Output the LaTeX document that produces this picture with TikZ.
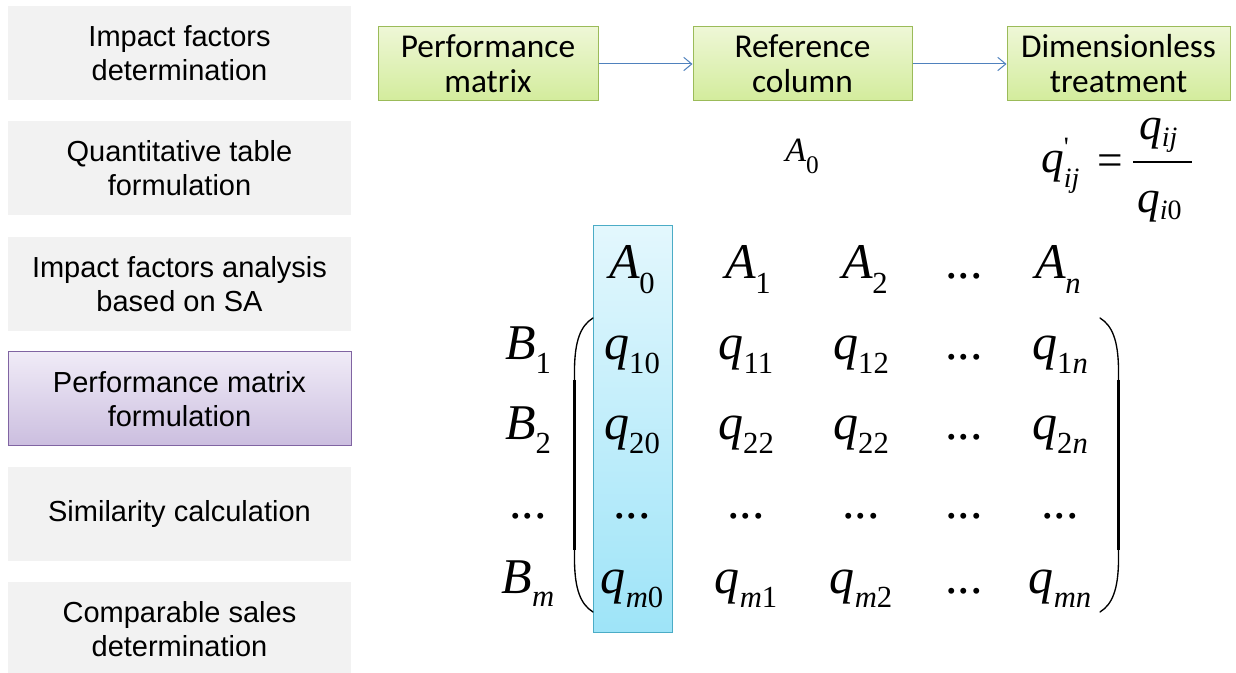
\documentclass[tikz,border=0pt]{standalone}
\usepackage{fontspec}
\setmainfont{Liberation Serif}
\newfontfamily\arialf{Liberation Sans}
\newfontfamily\calibf{Carlito}
\newfontfamily\tnrf{Liberation Serif}
\usetikzlibrary{arrows.meta}
\definecolor{lgray}{HTML}{F2F2F2}
\definecolor{pborder}{HTML}{8064A2}
\definecolor{ptop}{HTML}{F0EBF7}
\definecolor{pbot}{HTML}{CBBEDF}
\definecolor{gborder}{HTML}{9BBB59}
\definecolor{gtop}{HTML}{EEF7D6}
\definecolor{gbot}{HTML}{D3EC9C}
\definecolor{arrowblue}{HTML}{4F81BD}
\definecolor{btop}{HTML}{E3F7FD}
\definecolor{bbot}{HTML}{9EE4F8}
\definecolor{bborder}{HTML}{4BACC6}
\newcommand\mQ[1]{{\itshape q}\raisebox{-10.5pt}{\fontsize{23pt}{23pt}\selectfont #1}}
\newcommand\mA[1]{{\itshape A}\kern-0.5pt\raisebox{-11pt}{\fontsize{23pt}{23pt}\selectfont #1}}
\newcommand\mB[1]{{\itshape B}\raisebox{-10pt}{\fontsize{23pt}{23pt}\selectfont #1}}
\newcommand\mI[1]{{\itshape #1}}
\begin{document}
\begin{tikzpicture}[x=0.75pt,y=-0.75pt,
  lbox/.style={fill=lgray, draw=none, minimum width=257.25pt, minimum height=70.5pt, inner sep=0pt, align=center, font=\arialf\fontsize{21.75pt}{25.5pt}\selectfont},
  hbox/.style={top color=ptop, bottom color=pbot, draw=pborder, line width=0.75pt, minimum width=257.25pt, minimum height=70.5pt, inner sep=0pt, align=center, font=\arialf\fontsize{21.75pt}{25.5pt}\selectfont},
  gbox/.style={draw=gborder, line width=0.75pt, top color=gtop, bottom color=gbot, minimum height=55.5pt, inner sep=0pt, align=center, font=\calibf\fontsize{25pt}{26.25pt}\selectfont},
  flow/.style={draw=arrowblue, line width=0.75pt, -{Straight Barb[length=6pt,width=10pt,line width=0.75pt]}},
  mat/.style={anchor=base, inner sep=0pt, font=\tnrf\fontsize{37.5pt}{37.5pt}\selectfont},
  fml/.style={anchor=base west, inner sep=0pt, font=\tnrf\fontsize{34pt}{34pt}\selectfont},
  paren/.style={line width=1pt, line cap=round},
  parenmid/.style={line width=1.9pt}
]
\useasboundingbox (0,0) rectangle (1236,673);
% left steps
\node[lbox] (l1) at (179.5,53) {Impact factors\\determination};
\node[lbox] (l2) at (179.5,168) {Quantitative table\\formulation};
\node[lbox] (l3) at (179.5,284) {Impact factors analysis\\based on SA};
\node[hbox] (l4) at (179.5,399) {Performance matrix\\formulation};
\node[lbox] (l5) at (179.5,514) {Similarity calculation};
\node[lbox] (l6) at (179.5,629) {Comparable sales\\determination};
% top flow
\node[gbox, minimum width=165pt] (pm) at (488,64) {Performance\\matrix};
\node[gbox, minimum width=164.25pt] (rc) at (802.5,64) {Reference\\column};
\node[gbox, minimum width=167.25pt] (dt) at (1118.5,64) {Dimensionless\\treatment};
\draw[flow] (pm) -- (rc);
\draw[flow] (rc) -- (dt);
% labels under boxes
\node[anchor=base, inner sep=0pt, font=\tnrf\fontsize{25.5pt}{25.5pt}\selectfont] (a0lab) at (802,162) {{\itshape A}\raisebox{-9pt}{\fontsize{19pt}{19pt}\selectfont 0}};
\node[fml] (qp) at (1041,173) {{\itshape q}\rlap{\raisebox{12pt}{\fontsize{21pt}{21pt}\selectfont\textquotesingle}}\raisebox{-11pt}{\fontsize{21pt}{21pt}\selectfont\itshape ij}};
\node[anchor=base, inner sep=0pt, font=\tnrf\fontsize{34pt}{34pt}\selectfont] (eq) at (1110,176) {=};
\coordinate (fbl) at (1133,162);
\coordinate (fbr) at (1192,162);
\draw[line width=1.5pt] (fbl) -- (fbr);
\node[fml] (num) at (1139,140) {{\itshape q}\raisebox{-5pt}{\fontsize{21pt}{21pt}\selectfont\itshape ij}};
\node[fml] (den) at (1137,213) {{\itshape q}\raisebox{-5pt}{\fontsize{21pt}{21pt}\selectfont {\itshape i}0}};
% highlighted column
\node[draw=bborder, line width=0.75pt, top color=btop, bottom color=bbot, minimum width=59.25pt, minimum height=304.5pt, inner sep=0pt] (col) at (632.5,429) {};
% parentheses
\draw[paren] (593,318) .. controls (580,326) and (575,342) .. (574.5,368) -- (574.5,562) .. controls (575,588) and (580,604) .. (593,612);
\draw[parenmid] (574.5,380) -- (574.5,550);
\draw[paren] (1100,318) .. controls (1113,326) and (1118,342) .. (1118.5,368) -- (1118.5,562) .. controls (1118,588) and (1113,604) .. (1100,612);
\draw[parenmid] (1118.5,380) -- (1118.5,550);
% header row
\node[mat] (h0) at (632,279) {\mA{0}};
\node[mat] (h1) at (748,279) {\mA{1}};
\node[mat] (h2) at (865,279) {\mA{2}};
\node[mat] (h3) at (964,279) {...};
\node[mat] (h4) at (1058,279) {\mA{\mI{n}}};
% row 1
\node[mat] (b1) at (528,360) {\mB{1}};
\node[mat] (e10) at (632,360) {\mQ{10}};
\node[mat] (e11) at (746,360) {\mQ{11}};
\node[mat] (e12) at (861,360) {\mQ{12}};
\node[mat] (e13) at (964,360) {...};
\node[mat] (e14) at (1060,360) {\mQ{1\mI{n}}};
% row 2
\node[mat] (b2) at (528,440) {\mB{2}};
\node[mat] (e20) at (632,440) {\mQ{20}};
\node[mat] (e21) at (746,440) {\mQ{22}};
\node[mat] (e22) at (861,440) {\mQ{22}};
\node[mat] (e23) at (964,440) {...};
\node[mat] (e24) at (1060,440) {\mQ{2\mI{n}}};
% row 3
\node[mat] (b3) at (528,518) {...};
\node[mat] (e30) at (632,518) {...};
\node[mat] (e31) at (746,518) {...};
\node[mat] (e32) at (861,518) {...};
\node[mat] (e33) at (964,518) {...};
\node[mat] (e34) at (1060,518) {...};
% row m
\node[mat] (bm) at (528,593) {\mB{\mI{m}}};
\node[mat] (em0) at (632,593) {\mQ{\mI{m}0}};
\node[mat] (em1) at (746,593) {\mQ{\mI{m}1}};
\node[mat] (em2) at (861,593) {\mQ{\mI{m}2}};
\node[mat] (em3) at (964,593) {...};
\node[mat] (em4) at (1060,593) {\mQ{\mI{mn}}};
\end{tikzpicture}
\end{document}
